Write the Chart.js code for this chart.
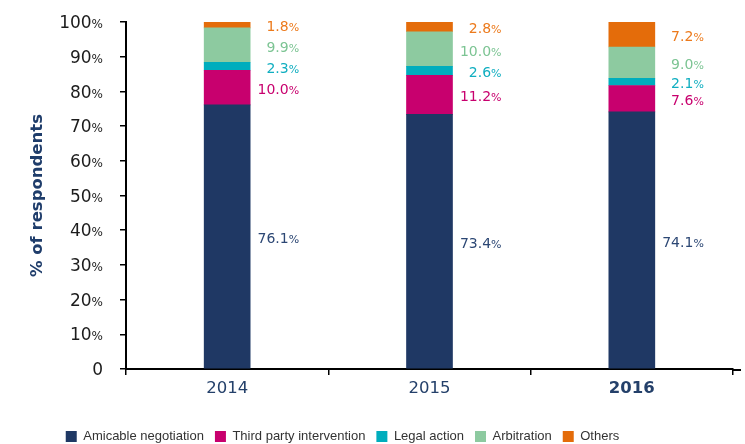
<!DOCTYPE html>
<html>
<head>
<meta charset="utf-8">
<script src="https://cdn.jsdelivr.net/npm/chart.js@4.4.0/dist/chart.umd.min.js"></script>
<style>
  html, body { margin: 0; padding: 0; background: #fff; }
</style>
</head>
<body>
<canvas id="myChart" width="745" height="444"></canvas>
<script>
// data
const years = ["2014", "2015", "2016"];
const seriesNames = ["Amicable negotiation", "Third party intervention", "Legal action", "Arbitration", "Others"];
const amicable = [76.1, 73.4, 74.1];
const thirdParty = [10.0, 11.2, 7.6];
const legalAction = [2.3, 2.6, 2.1];
const arbitration = [9.9, 10.0, 9.0];
const others = [1.8, 2.8, 7.2];
const yTicks = [0, 10, 20, 30, 40, 50, 60, 70, 80, 90, 100];

const barColors = ["#1f3864", "#c8006e", "#00adbd", "#8dcaa0", "#e46c0a"];
const labelColors = ["#2c4774", "#c8006e", "#10aec0", "#7cc493", "#ec7a1c"];
const FONT = "'DejaVu Sans', sans-serif";
const LEGEND_FONT = "'Liberation Sans', sans-serif";

// draws "12.3" with a smaller "%" after it, right aligned at x
function drawPct(ctx, num, withPct, right, midY, big, small, color) {
  ctx.save();
  ctx.fillStyle = color;
  ctx.textAlign = "left";
  ctx.textBaseline = "alphabetic";
  ctx.font = `${small}px ${FONT}`;
  const w2 = withPct ? ctx.measureText("%").width : 0;
  ctx.font = `${big}px ${FONT}`;
  const w1 = ctx.measureText(num).width;
  const base = midY + big * 0.36;
  ctx.fillText(num, right - w2 - w1, base);
  if (withPct) {
    ctx.font = `${small}px ${FONT}`;
    ctx.fillText("%", right - w2, base);
  }
  ctx.restore();
}

const valueLabels = {
  id: "valueLabels",
  afterDatasetsDraw(chart) {
    const ctx = chart.ctx;
    chart.data.datasets.forEach((ds, i) => {
      const meta = chart.getDatasetMeta(i);
      meta.data.forEach((bar, j) => {
        const y = (bar.y + bar.base) / 2 + 1.5;
        drawPct(ctx, ds.data[j].toFixed(1), true, bar.x + 72, y, 14, 11, labelColors[i]);
      });
    });
  },
};

const yLabels = {
  id: "yLabels",
  afterDraw(chart) {
    const ctx = chart.ctx;
    const s = chart.scales.y;
    yTicks.forEach((v) => {
      drawPct(ctx, String(v), v !== 0, 103, s.getPixelForValue(v), 17, 12, "#1c1c1c");
    });
    // x axis line runs on a little past the last tick
    ctx.save();
    ctx.strokeStyle = "#000";
    ctx.lineWidth = 2;
    ctx.beginPath();
    ctx.moveTo(chart.chartArea.right, chart.chartArea.bottom + 1);
    ctx.lineTo(741, chart.chartArea.bottom + 1);
    ctx.stroke();
    ctx.restore();
  },
};

const legendShift = {
  id: "legendShift",
  afterLayout(chart) {
    chart.legend.left -= 24;
    chart.legend.right -= 24;
  },
};

function makeDataset(idx, values) {
  return {
    label: seriesNames[idx],
    data: values,
    backgroundColor: barColors[idx],
    barThickness: 46,
  };
}

function createChart() {
  const ctx = document.getElementById("myChart");
  new Chart(ctx, {
    type: "bar",
    data: {
      labels: years,
      datasets: [
        makeDataset(0, amicable),
        makeDataset(1, thirdParty),
        makeDataset(2, legalAction),
        makeDataset(3, arbitration),
        makeDataset(4, others),
      ],
    },
    options: {
      responsive: false,
      animation: false,
      layout: { padding: { top: 22, right: 12, left: 0, bottom: 0 } },
      plugins: {
        tooltip: { enabled: false },
        legend: {
          position: "bottom",
          maxHeight: 25,
          labels: {
            boxWidth: 11,
            boxHeight: 11,
            padding: 11,
            color: "#333",
            font: { family: LEGEND_FONT, size: 13 },
          },
        },
      },
      scales: {
        x: {
          stacked: true,
          offset: true,
          grid: { drawOnChartArea: false, offset: true, tickLength: 6, color: "#000", lineWidth: 1.5 },
          border: { color: "#000", width: 2 },
          ticks: {
            padding: 4,
            color: "#24406a",
            font: (c) => ({ family: FONT, size: 16.5, weight: c.index === 2 ? "bold" : "normal" }),
          },
          afterFit: (s) => { s.height = 50; },
        },
        y: {
          stacked: true,
          min: 0,
          max: 100,
          ticks: { display: false, stepSize: 10 },
          grid: { drawOnChartArea: false, tickLength: 6, color: "#000", lineWidth: 1.5 },
          border: { color: "#000", width: 2 },
          title: {
            display: true,
            text: "% of respondents",
            color: "#1f3d6b",
            font: { family: FONT, size: 16.5, weight: "bold" },
            padding: { top: 28, bottom: 0 },
          },
          afterFit: (s) => { s.width = 126; },
        },
      },
    },
    plugins: [valueLabels, yLabels, legendShift],
  });
}

createChart();
</script>
</body>
</html>
